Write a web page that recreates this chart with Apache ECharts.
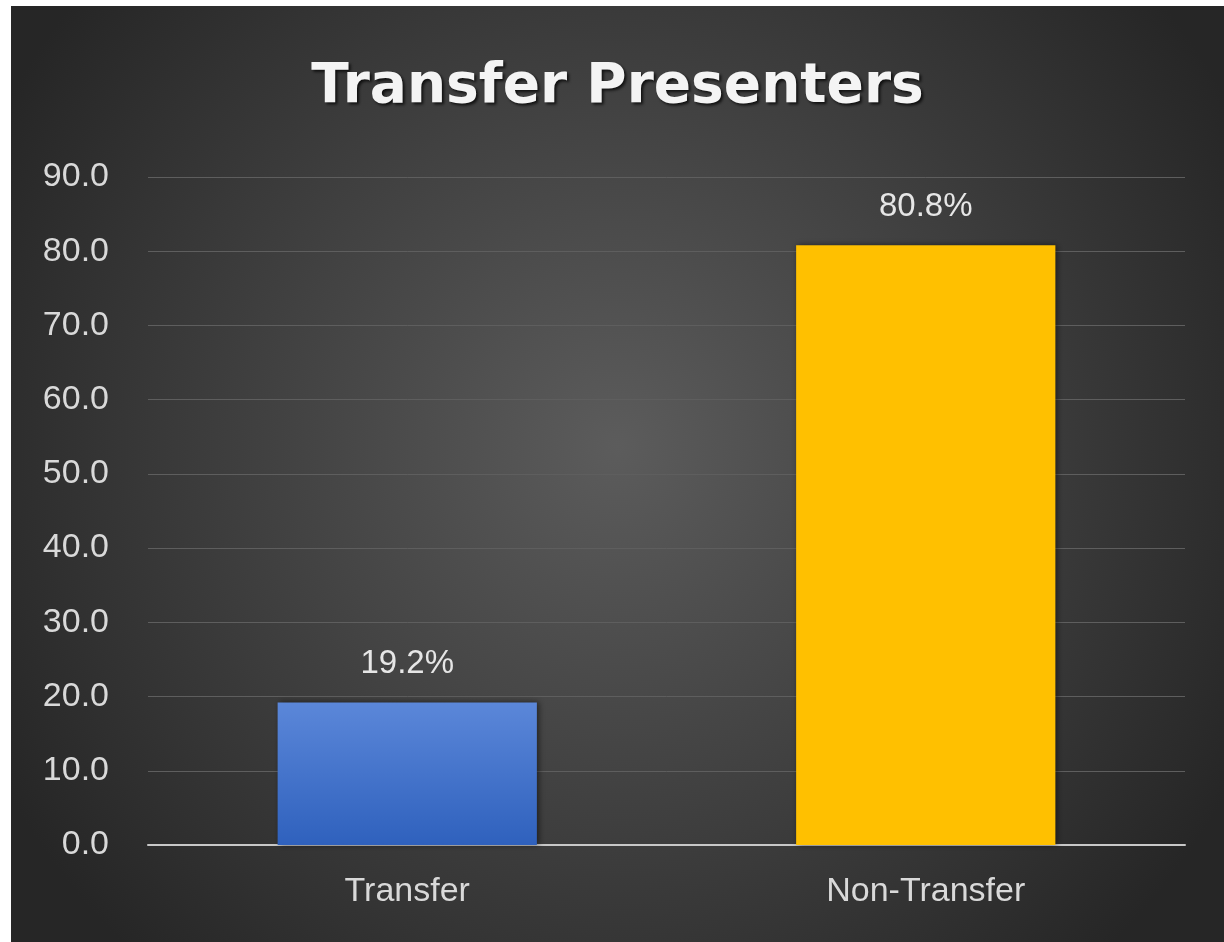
<!DOCTYPE html>
<html>
<head>
<meta charset="utf-8">
<script src="https://cdn.jsdelivr.net/npm/echarts@6/dist/echarts.min.js"></script>
<style>
  html, body { margin: 0; padding: 0; background: #ffffff; width: 1224px; height: 942px; overflow: hidden; }
  #chart { position: absolute; left: 11px; top: 6px; width: 1213px; height: 936px; }
</style>
</head>
<body>
<div id="chart"></div>
<script>
const titleText = 'Transfer Presenters';
const categories = ['Transfer', 'Non-Transfer'];
const values = [19.2, 80.8];
const yMin = 0, yMax = 90, yStep = 10;

const chart = echarts.init(document.getElementById('chart'), null, { renderer: 'canvas' });

const barColors = [
  new echarts.graphic.LinearGradient(0, 0, 0, 1, [
    { offset: 0, color: '#5b87d9' },
    { offset: 1, color: '#2f61bd' }
  ]),
  '#ffc000'
];

chart.setOption({
  backgroundColor: {
    type: 'radial', x: 0.5, y: 0.47, r: 0.75,
    colorStops: [
      { offset: 0, color: '#5c5c5c' },
      { offset: 1, color: '#262626' }
    ]
  },
  title: {
    text: titleText,
    left: 'center',
    top: 49,
    textStyle: {
      fontFamily: 'DejaVu Sans',
      fontWeight: 'bold',
      fontSize: 55,
      color: '#f4f4f4',
      textShadowColor: 'rgba(0,0,0,0.75)',
      textShadowBlur: 3,
      textShadowOffsetX: 2,
      textShadowOffsetY: 2
    }
  },
  grid: { left: 137, right: 39, top: 171, bottom: 97, containLabel: false },
  xAxis: {
    type: 'category',
    data: categories,
    axisLine: { show: true, lineStyle: { color: '#c8c8c8', width: 2 } },
    axisTick: { show: false },
    axisLabel: {
      color: '#d9d9d9',
      fontFamily: 'Liberation Sans',
      fontSize: 34,
      margin: 30
    }
  },
  yAxis: {
    type: 'value',
    min: yMin, max: yMax, interval: yStep,
    axisLine: { show: false },
    axisTick: { show: false },
    splitLine: { lineStyle: { color: '#5e5e5e', width: 1 } },
    axisLabel: {
      color: '#d9d9d9',
      fontFamily: 'Liberation Sans',
      fontSize: 34,
      margin: 39,
      formatter: v => v.toFixed(1)
    }
  },
  series: [{
    type: 'bar',
    data: values.map((v, i) => ({ value: v, itemStyle: { color: barColors[i] } })),
    barWidth: '50%',
    itemStyle: {
      shadowColor: 'rgba(0,0,0,0.5)',
      shadowBlur: 6,
      shadowOffsetX: 2,
      shadowOffsetY: 0
    },
    label: {
      show: true,
      position: 'top',
      distance: 22,
      color: '#e6e6e6',
      fontFamily: 'Liberation Sans',
      fontSize: 33,
      formatter: p => p.value.toFixed(1) + '%'
    }
  }]
});
</script>
</body>
</html>
